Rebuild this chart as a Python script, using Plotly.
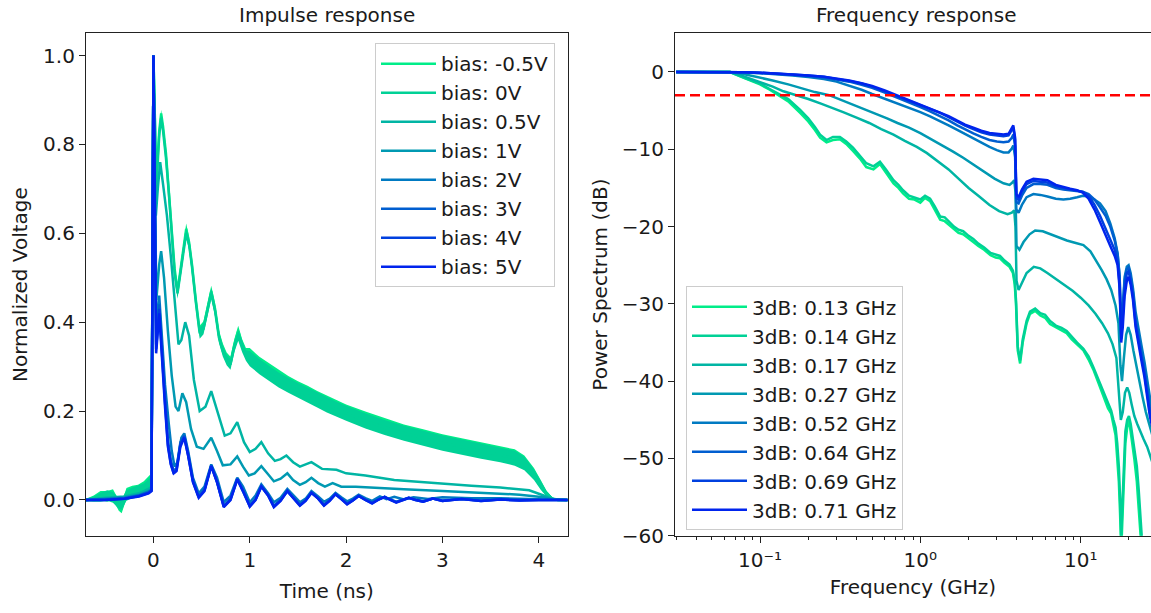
import math
import plotly.graph_objects as go

# ---------------- Impulse response data ----------------
bias_labels = ["bias: -0.5V", "bias: 0V", "bias: 0.5V", "bias: 1V",
               "bias: 2V", "bias: 3V", "bias: 4V", "bias: 5V"]

t_g = [-0.70, -0.62, -0.55, -0.48, -0.42, -0.36, -0.33, -0.28, -0.22, -0.16,
       -0.10, -0.05, -0.02, 0.0, 0.03, 0.06, 0.08, 0.10, 0.13, 0.16,
       0.19, 0.22, 0.25, 0.28, 0.31, 0.34, 0.37, 0.40, 0.44, 0.48,
       0.52, 0.56, 0.60, 0.64, 0.68, 0.72, 0.76, 0.80, 0.84, 0.88,
       0.92, 0.96, 1.0, 1.1, 1.2, 1.3, 1.4, 1.5, 1.6, 1.7,
       1.8, 1.9, 2.0, 2.2, 2.4, 2.6, 2.8, 3.0, 3.2, 3.4,
       3.6, 3.75, 3.85, 3.95, 4.02, 4.08, 4.14, 4.2, 4.3]
v_m05 = [0.000, 0.004, 0.010, 0.008, 0.012, -0.012, -0.018, 0.015, 0.020, 0.022,
         0.030, 0.040, 0.050, 1.0, 0.72, 0.83, 0.87, 0.84, 0.78, 0.70,
         0.60, 0.52, 0.47, 0.52, 0.57, 0.61, 0.58, 0.53, 0.45, 0.38,
         0.39, 0.43, 0.47, 0.43, 0.37, 0.34, 0.32, 0.31, 0.35, 0.38,
         0.35, 0.33, 0.325, 0.305, 0.29, 0.275, 0.262, 0.25, 0.24, 0.228,
         0.218, 0.208, 0.198, 0.182, 0.167, 0.153, 0.142, 0.131, 0.122, 0.113,
         0.105, 0.097, 0.085, 0.06, 0.035, 0.015, 0.003, 0.0, 0.0]
v_0 = [0.000, 0.002, 0.006, 0.010, 0.006, -0.008, -0.010, 0.010, 0.016, 0.020,
       0.025, 0.035, 0.045, 1.0, 0.70, 0.82, 0.86, 0.83, 0.77, 0.69,
       0.59, 0.51, 0.465, 0.51, 0.56, 0.60, 0.575, 0.525, 0.445, 0.375,
       0.385, 0.425, 0.465, 0.425, 0.365, 0.335, 0.315, 0.305, 0.345, 0.37,
       0.345, 0.325, 0.318, 0.30, 0.285, 0.27, 0.258, 0.246, 0.236, 0.225,
       0.214, 0.204, 0.195, 0.178, 0.163, 0.15, 0.139, 0.128, 0.119, 0.11,
       0.102, 0.094, 0.082, 0.057, 0.033, 0.014, 0.003, 0.0, 0.0]
# half-width of the noise band around the two green traces
amp_g = [0.003, 0.006, 0.010, 0.012, 0.012, 0.012, 0.012, 0.012, 0.012, 0.012,
         0.012, 0.012, 0.010, 0.0, 0.008, 0.008, 0.008, 0.008, 0.008, 0.008,
         0.008, 0.012, 0.012, 0.012, 0.012, 0.012, 0.012, 0.012, 0.012, 0.012,
         0.012, 0.012, 0.012, 0.012, 0.012, 0.012, 0.012, 0.012, 0.012, 0.012,
         0.012, 0.012, 0.017, 0.017, 0.017, 0.017, 0.017, 0.017, 0.017, 0.017,
         0.017, 0.017, 0.017, 0.017, 0.017, 0.017, 0.017, 0.017, 0.017, 0.017,
         0.017, 0.017, 0.015, 0.012, 0.010, 0.006, 0.003, 0.0, 0.0]

t05 = [-0.70, -0.5, -0.3, -0.15, -0.05, -0.02, 0.0, 0.025, 0.045, 0.07,
       0.10, 0.14, 0.18, 0.22, 0.26, 0.29, 0.33, 0.37, 0.42, 0.48,
       0.54, 0.60, 0.66, 0.74, 0.80, 0.87, 0.94, 1.0, 1.06, 1.12,
       1.19, 1.26, 1.32, 1.38, 1.45, 1.52, 1.58, 1.64, 1.75, 1.9,
       2.0, 2.2, 2.5, 2.8, 3.0, 3.3, 3.6, 3.9, 4.05, 4.15, 4.3]
v05 = [0.0, 0.005, 0.008, 0.015, 0.025, 0.03, 1.0, 0.64, 0.70, 0.76,
       0.71, 0.64, 0.55, 0.44, 0.35, 0.36, 0.40, 0.37, 0.27, 0.20,
       0.21, 0.245, 0.20, 0.145, 0.15, 0.175, 0.13, 0.108, 0.115, 0.13,
       0.105, 0.088, 0.092, 0.10, 0.085, 0.075, 0.08, 0.085, 0.07, 0.068,
       0.06, 0.055, 0.045, 0.04, 0.036, 0.032, 0.028, 0.022, 0.01, 0.002, 0.0]

t1 = [-0.70, -0.5, -0.3, -0.15, -0.05, -0.02, 0.0, 0.03, 0.06, 0.08,
      0.11, 0.15, 0.19, 0.23, 0.26, 0.30, 0.34, 0.39, 0.45, 0.52,
      0.60, 0.66, 0.72, 0.80, 0.87, 0.93, 0.99, 1.05, 1.12, 1.19,
      1.25, 1.32, 1.39, 1.45, 1.52, 1.58, 1.64, 1.71, 1.78, 1.86,
      1.95, 2.1, 2.3, 2.6, 3.0, 3.4, 3.8, 4.05, 4.15, 4.3]
v1 = [0.0, 0.003, 0.006, 0.012, 0.02, 0.025, 1.0, 0.45, 0.53, 0.56,
      0.50, 0.38, 0.28, 0.21, 0.20, 0.24, 0.22, 0.16, 0.12, 0.115,
      0.14, 0.11, 0.078, 0.08, 0.098, 0.075, 0.055, 0.06, 0.076, 0.058,
      0.042, 0.048, 0.06, 0.045, 0.034, 0.04, 0.05, 0.038, 0.03, 0.038,
      0.03, 0.03, 0.027, 0.024, 0.02, 0.016, 0.012, 0.006, 0.001, 0.0]

t2 = [-0.70, -0.5, -0.3, -0.15, -0.05, -0.02, 0.0, 0.03, 0.06, 0.09,
      0.12, 0.16, 0.19, 0.22, 0.25, 0.29, 0.32, 0.36, 0.41, 0.47,
      0.53, 0.60, 0.66, 0.73, 0.80, 0.87, 0.93, 1.0, 1.06, 1.12,
      1.19, 1.25, 1.32, 1.39, 1.45, 1.52, 1.58, 1.64, 1.71, 1.77,
      1.83, 1.89, 1.95, 2.01, 2.07, 2.13, 2.2, 2.27, 2.35, 2.42,
      2.5, 2.6, 2.7, 2.85, 3.0, 3.3, 3.6, 3.9, 4.1, 4.3]
v2 = [0.0, 0.002, 0.004, 0.01, 0.018, 0.022, 1.0, 0.38, 0.46, 0.36,
      0.26, 0.17, 0.11, 0.075, 0.085, 0.14, 0.15, 0.11, 0.05, 0.015,
      0.03, 0.08, 0.05, -0.005, 0.01, 0.05, 0.03, -0.005, 0.01, 0.035,
      0.015, -0.005, 0.005, 0.025, 0.01, -0.005, 0.003, 0.02, 0.008, -0.004,
      0.003, 0.016, 0.006, -0.003, 0.003, 0.012, 0.004, -0.002, 0.008, 0.002,
      0.007, 0.001, 0.006, 0.002, 0.006, 0.004, 0.004, 0.002, 0.0, 0.0]

tb = [-0.70, -0.5, -0.3, -0.15, -0.05, -0.02, 0.0, 0.028, 0.06, 0.09,
      0.12, 0.15, 0.18, 0.21, 0.24, 0.28, 0.32, 0.36, 0.41, 0.47,
      0.53, 0.60, 0.66, 0.73, 0.80, 0.87, 0.93, 1.0, 1.06, 1.12,
      1.19, 1.25, 1.32, 1.39, 1.45, 1.52, 1.58, 1.64, 1.71, 1.77,
      1.83, 1.89, 1.95, 2.01, 2.07, 2.13, 2.2, 2.27, 2.33, 2.4,
      2.46, 2.52, 2.59, 2.65, 2.72, 2.8, 2.9, 3.0, 3.2, 3.4,
      3.6, 3.8, 4.0, 4.3]
v3 = [0.0, 0.001, 0.004, 0.01, 0.017, 0.022, 1.0, 0.35, 0.44, 0.33,
      0.23, 0.135, 0.09, 0.065, 0.072, 0.13, 0.145, 0.105, 0.045, 0.008,
      0.024, 0.078, 0.042, -0.013, 0.003, 0.048, 0.022, -0.012, 0.002, 0.032,
      0.012, -0.013, 0.0, 0.021, 0.006, -0.011, 0.0, 0.017, 0.004, -0.011,
      0.0, 0.014, 0.003, -0.008, 0.0, 0.01, 0.001, -0.006, 0.001, 0.007,
      0.001, -0.004, 0.001, 0.005, 0.001, -0.003, 0.003, -0.001, 0.002, -0.001,
      0.001, 0.0, 0.0, 0.0]
v4 = [0.0, 0.0, 0.003, 0.009, 0.016, 0.021, 1.0, 0.34, 0.43, 0.31,
      0.22, 0.125, 0.082, 0.06, 0.068, 0.125, 0.142, 0.10, 0.042, 0.006,
      0.022, 0.077, 0.04, -0.015, 0.001, 0.047, 0.02, -0.014, 0.001, 0.031,
      0.01, -0.015, -0.001, 0.02, 0.005, -0.012, -0.001, 0.016, 0.003, -0.012,
      -0.001, 0.013, 0.002, -0.009, -0.001, 0.009, 0.0, -0.007, 0.0, 0.007,
      0.0, -0.005, 0.0, 0.005, 0.0, -0.004, 0.003, -0.002, 0.002, -0.002,
      0.001, -0.001, 0.0, 0.0]
v5 = [0.0, 0.0, 0.003, 0.008, 0.015, 0.02, 1.0, 0.33, 0.42, 0.30,
      0.21, 0.12, 0.08, 0.06, 0.065, 0.12, 0.14, 0.10, 0.04, 0.005,
      0.02, 0.076, 0.04, -0.016, 0.0, 0.046, 0.02, -0.015, 0.0, 0.03,
      0.01, -0.016, -0.002, 0.02, 0.005, -0.013, -0.002, 0.016, 0.003, -0.013,
      -0.002, 0.013, 0.002, -0.01, -0.001, 0.009, 0.0, -0.008, 0.0, 0.007,
      0.0, -0.006, 0.0, 0.005, 0.0, -0.004, 0.003, -0.002, 0.002, -0.002,
      0.001, -0.001, 0.0, 0.0]

# ---------------- Frequency response data ----------------
bw_labels = ["3dB: 0.13 GHz", "3dB: 0.14 GHz", "3dB: 0.17 GHz", "3dB: 0.27 GHz",
             "3dB: 0.52 GHz", "3dB: 0.64 GHz", "3dB: 0.69 GHz", "3dB: 0.71 GHz"]

f_g = [0.03, 0.045, 0.065, 0.08, 0.1, 0.115, 0.13, 0.15, 0.178, 0.2,
       0.22, 0.237, 0.26, 0.285, 0.315, 0.345, 0.38, 0.42, 0.46, 0.51,
       0.56, 0.61, 0.68, 0.73, 0.78, 0.85, 0.92, 1.0, 1.07, 1.15,
       1.23, 1.33, 1.42, 1.52, 1.62, 1.73, 1.85, 2.0, 2.14, 2.3,
       2.5, 2.74, 2.95, 3.14, 3.35, 3.6, 3.78, 3.88, 3.95, 4.05,
       4.19, 4.35, 4.6, 4.83, 5.2, 5.6, 6.0, 6.44, 7.0, 7.6,
       8.18, 8.8, 9.5, 10.4, 11.2, 12.0, 12.9, 13.9, 14.8, 15.5,
       16.0, 16.5, 16.9, 17.3, 17.6, 17.9, 18.2, 18.6, 19.0, 19.5,
       20.0, 20.5, 21.0, 21.6, 22.4, 23.0, 23.6, 24.2]
db_m05 = [0, 0, 0, -0.8, -1.6, -2.3, -3.0, -3.8, -5.3, -6.4,
          -7.5, -8.5, -9.1, -8.8, -8.7, -9.3, -10.2, -11.2, -12.3, -12.6,
          -11.9, -13.0, -14.4, -15.0, -15.7, -16.4, -16.5, -16.9, -16.3, -16.7,
          -17.8, -19.1, -19.3, -19.8, -20.3, -20.8, -21.0, -21.6, -22.0, -22.5,
          -23.0, -23.7, -24.0, -24.1, -24.7, -25.2, -26.0, -27.5, -30, -36,
          -37.7, -35, -32.5, -31.3, -30.9, -31.5, -31.8, -32.6, -33.0, -33.4,
          -33.8, -34.6, -35.2, -36.0, -37.2, -38.5, -40.2, -41.9, -43.5, -44.2,
          -45.7, -47, -50, -53, -57, -62, -58, -52, -48, -46,
          -45, -46.5, -48, -50, -53, -56, -59, -63]
db_0 = [0, 0, 0, -0.75, -1.5, -2.2, -2.85, -3.5, -4.9, -6.0,
        -7.1, -8.1, -8.8, -8.4, -8.4, -9.0, -9.8, -10.8, -11.8, -12.2,
        -11.6, -12.6, -14.0, -14.6, -15.3, -16.0, -16.2, -16.5, -16.0, -16.4,
        -17.4, -18.7, -18.8, -19.4, -20.0, -20.4, -20.6, -21.2, -21.6, -22.2,
        -22.7, -23.4, -23.6, -23.8, -24.4, -24.9, -25.7, -27.0, -29.5, -35.5,
        -37.3, -34.6, -32.2, -31.0, -30.6, -31.2, -31.4, -32.2, -32.8, -33.1,
        -33.5, -34.3, -35.0, -35.8, -36.8, -38.2, -39.8, -41.5, -43.0, -43.8,
        -45.0, -46, -48, -51, -55, -60, -56, -50, -46.5, -45,
        -44.5, -45.5, -47, -49, -51, -54, -57, -61]

f05 = [0.03, 0.045, 0.065, 0.08, 0.1, 0.12, 0.14, 0.17, 0.2, 0.24,
       0.28, 0.33, 0.4, 0.48, 0.57, 0.68, 0.8, 0.95, 1.1, 1.3,
       1.5, 1.75, 2.0, 2.3, 2.7, 3.1, 3.5, 3.72, 3.85, 3.92,
       3.98, 4.1, 4.3, 4.6, 5.1, 5.6, 6.2, 7.0, 7.9, 8.9,
       10.0, 11.2, 12.4, 13.6, 14.8, 15.8, 16.7, 17.3, 17.8, 18.3,
       18.9, 19.5, 20.1, 20.8, 21.6, 22.5, 23.5, 24.7, 26.0, 27.5, 28]
db_05 = [0, 0, 0, -0.6, -1.3, -1.9, -2.5, -3.0, -3.5, -4.1,
         -4.6, -5.2, -5.9, -6.6, -7.4, -8.1, -8.9, -9.7, -10.5, -11.6,
         -12.6, -13.9, -15.0, -16.0, -17.2, -18.0, -18.4, -18.2, -17.9, -20,
         -27, -28.2, -27.2, -26.0, -25.2, -25.4, -26.0, -26.8, -27.5, -28.3,
         -29.2, -30.2, -31.3, -32.5, -33.8, -35.2, -37.0, -41, -45, -44,
         -41.5, -40.8, -41.5, -43, -44.5, -45.5, -46.5, -47.5, -48.5, -50, -50.5]

f1 = [0.03, 0.045, 0.065, 0.08, 0.1, 0.12, 0.15, 0.18, 0.22, 0.27,
      0.32, 0.38, 0.45, 0.53, 0.62, 0.72, 0.85, 1.0, 1.2, 1.4,
      1.6, 1.85, 2.14, 2.5, 2.9, 3.3, 3.6, 3.75, 3.85, 3.92,
      3.98, 4.15, 4.4, 4.8, 5.2, 5.8, 6.5, 7.3, 8.2, 9.2,
      10.4, 11.5, 12.6, 13.5, 14.5, 15.5, 16.5, 17.2, 17.7, 18.1,
      18.6, 19.2, 19.8, 20.5, 21.3, 22.2, 23.2, 24.3, 25.5, 27.0, 28.0]
db_1 = [0, 0, 0, -0.3, -0.7, -1.1, -1.6, -2.1, -2.6, -3.0,
        -3.6, -4.2, -4.8, -5.4, -6.0, -6.6, -7.2, -7.9, -8.8, -9.6,
        -10.3, -11.1, -12.0, -12.9, -13.8, -14.4, -14.6, -14.3, -14.0, -15.5,
        -22.5, -23.0, -22.0, -21.0, -20.5, -20.6, -21.0, -21.4, -21.8, -22.1,
        -22.4, -23.2, -24.5, -25.6, -26.8, -28.2, -30.2, -32.5, -38, -40,
        -37, -34, -33, -34, -36, -38, -40, -42, -44, -46, -47]

f_b = [0.03, 0.045, 0.065, 0.08, 0.1, 0.13, 0.16, 0.2, 0.25, 0.3,
       0.36, 0.43, 0.5, 0.6, 0.71, 0.85, 1.0, 1.15, 1.33, 1.5,
       1.7, 1.9, 2.14, 2.4, 2.7, 3.0, 3.3, 3.55, 3.72, 3.8,
       3.9, 3.97, 4.1, 4.3, 4.6, 5.07, 5.6, 6.2, 7.0, 7.8,
       8.6, 9.5, 10.3, 11.2, 12.2, 13.2, 14.3, 15.3, 16.3, 17.0,
       17.5, 17.9, 18.3, 18.8, 19.4, 19.9, 20.5, 21.2, 22.0, 23.0,
       24.0, 25.0, 26.0, 27.0, 28.0]
db_2 = [0, 0, 0, -0.07, -0.15, -0.28, -0.45, -0.65, -0.9, -1.25,
        -1.75, -2.3, -2.85, -3.45, -4.0, -4.6, -5.2, -5.75, -6.35, -6.9,
        -7.5, -8.05, -8.65, -9.2, -9.7, -10.1, -10.4, -10.4, -9.9, -9.5,
        -11.0, -17.8, -18.2, -17.2, -16.2, -15.8, -15.9, -16.1, -16.4, -16.5,
        -16.4, -16.2, -16.0, -16.1, -16.5, -17.0, -18.0, -19.6, -21.5, -23.5,
        -26.5, -34, -31, -26.5, -25.2, -25.0, -26.0, -28, -31, -33.5,
        -35.5, -37.5, -40, -42, -44]
db_3 = [0, 0, 0, -0.05, -0.12, -0.22, -0.35, -0.52, -0.7, -0.97,
        -1.25, -1.65, -2.05, -2.65, -3.25, -3.9, -4.55, -5.1, -5.7, -6.25,
        -6.9, -7.45, -7.95, -8.4, -8.8, -9.0, -9.1, -9.0, -8.5, -8.1,
        -9.6, -16.8, -17.0, -16.0, -15.0, -14.5, -14.5, -14.6, -15.0, -15.2,
        -15.3, -15.4, -15.5, -15.8, -16.5, -17.5, -18.6, -20.0, -21.8, -23.6,
        -26.5, -33.5, -31, -27, -25.5, -25.3, -26.5, -28.5, -32, -34.5,
        -36.5, -38.5, -41, -43.5, -45]
db_4 = [0, 0, 0, -0.05, -0.1, -0.2, -0.32, -0.47, -0.63, -0.9,
        -1.15, -1.5, -1.9, -2.5, -3.1, -3.7, -4.3, -4.8, -5.3, -5.85,
        -6.45, -6.95, -7.4, -7.8, -8.1, -8.25, -8.3, -8.2, -7.6, -7.2,
        -8.8, -16.3, -16.5, -15.5, -14.5, -14.1, -14.2, -14.3, -14.8, -15.0,
        -15.2, -15.3, -15.5, -16.0, -17.2, -18.6, -20.3, -21.6, -23.0, -24.5,
        -27.5, -34.5, -32, -28, -26, -25.8, -27, -29, -32.5, -35,
        -37, -39, -41.5, -44, -45.5]
db_5 = [0, 0, 0, -0.05, -0.1, -0.2, -0.3, -0.45, -0.6, -0.85,
        -1.1, -1.45, -1.8, -2.4, -3.0, -3.6, -4.2, -4.7, -5.2, -5.7,
        -6.3, -6.8, -7.2, -7.6, -7.9, -8.0, -8.1, -8.0, -7.3, -6.9,
        -8.5, -15.8, -16.2, -15.2, -14.2, -13.8, -13.9, -14.0, -14.6, -14.9,
        -15.1, -15.3, -15.6, -16.4, -17.8, -19.4, -21.2, -22.5, -23.8, -25.0,
        -28, -35, -33, -29, -27, -26.5, -27.5, -29.5, -33, -35.5,
        -37.5, -39.5, -42, -44.5, -46]

threshold_db = -3

# ---------------- styles ----------------
colors = ["#00ed89", "#00d196", "#00b5a4", "#0099b2",
          "#007ac2", "#005ed0", "#0040df", "#0024ed"]
LW = 2.5
FONT = "DejaVu Sans"
INK = "#1a1a1a"

fig = go.Figure()

impulse = [(t_g, v_m05), (t_g, v_0), (t05, v05), (t1, v1),
           (t2, v2), (tb, v3), (tb, v4), (tb, v5)]
for i, (tx, vy) in enumerate(impulse):
    if i < 2:
        up = [a + b for a, b in zip(vy, amp_g)]
        lo = [a - b for a, b in zip(vy, amp_g)]
        fig.add_trace(go.Scatter(x=tx + tx[::-1], y=up + lo[::-1], mode="lines",
                                 fill="toself", fillcolor=colors[i],
                                 line=dict(width=0, color=colors[i]),
                                 showlegend=False, hoverinfo="skip",
                                 xaxis="x", yaxis="y"))
    fig.add_trace(go.Scatter(x=tx, y=vy, mode="lines", name=bias_labels[i],
                             line=dict(color=colors[i], width=LW),
                             xaxis="x", yaxis="y", legend="legend"))

freq = [(f_g, db_m05), (f_g, db_0), (f05, db_05), (f1, db_1),
        (f_b, db_2), (f_b, db_3), (f_b, db_4), (f_b, db_5)]
for i, (fx, dy) in enumerate(freq):
    fig.add_trace(go.Scatter(x=fx, y=dy, mode="lines", name=bw_labels[i],
                             line=dict(color=colors[i], width=LW),
                             xaxis="x2", yaxis="y2", legend="legend2"))

W, H = 1151, 613
yd = [66.5 / H, 579 / H]
axcommon = dict(showgrid=False, zeroline=False, showline=True, linecolor="#222",
                linewidth=1.2, ticks="outside", ticklen=6, tickwidth=1.2,
                tickcolor="#222", tickfont=dict(family=FONT, size=20, color=INK))
title_font = dict(family=FONT, size=20, color=INK)

minor_vals = [k * 10.0 ** e for e in (-2, -1, 0, 1) for k in range(2, 10)
              if 0.0295 <= k * 10.0 ** e <= 27.5]

fig.update_layout(
    width=W, height=H, margin=dict(l=0, r=0, t=0, b=0),
    paper_bgcolor="white", plot_bgcolor="white",
    font=dict(family=FONT, size=20, color=INK),
    xaxis=dict(domain=[86 / W, 567.7 / W], range=[-0.70, 4.30],
               tickvals=[0, 1, 2, 3, 4], mirror=True, anchor="y",
               title=dict(text="Time (ns)", font=title_font, standoff=13),
               **axcommon),
    yaxis=dict(domain=yd, range=[-0.0806, 1.050],
               tickvals=[0, 0.2, 0.4, 0.6, 0.8, 1.0],
               ticktext=["0.0", "0.2", "0.4", "0.6", "0.8", "1.0"],
               mirror=True, anchor="x",
               title=dict(text="Normalized Voltage", font=title_font, standoff=10),
               **axcommon),
    xaxis2=dict(type="log", domain=[675 / W, 1.0],
                range=[math.log10(0.0295), 1.4386],
                tickvals=[0.1, 1, 10],
                ticktext=["10\u207b\u00b9", "10\u2070", "10\u00b9"],
                minor=dict(tickvals=minor_vals, ticks="outside", ticklen=3.5,
                           tickwidth=1, tickcolor="#222"),
                mirror=True, anchor="y2",
                title=dict(text="Frequency (GHz)", font=title_font, standoff=9),
                **axcommon),
    yaxis2=dict(domain=yd, range=[-60, 5],
                tickvals=[0, -10, -20, -30, -40, -50, -60],
                mirror=False, anchor="x2",
                title=dict(text="Power Spectrum (dB)", font=title_font, standoff=8),
                **axcommon),
    legend=dict(x=375 / W, y=1 - 44 / H, xanchor="left", yanchor="top",
                bgcolor="rgba(255,255,255,0.8)", bordercolor="#cccccc",
                borderwidth=1, itemwidth=55,
                font=dict(family=FONT, size=20, color=INK)),
    legend2=dict(x=686 / W, y=1 - 292 / H, xanchor="left", yanchor="top",
                 bgcolor="rgba(255,255,255,0.8)", bordercolor="#cccccc",
                 borderwidth=1, itemwidth=55,
                 font=dict(family=FONT, size=20, color=INK)),
    shapes=[dict(type="line", xref="x2 domain", x0=0, x1=1, yref="y2",
                 y0=threshold_db, y1=threshold_db, layer="above",
                 line=dict(color="#ff0000", width=2.5, dash="10px,5px"))],
    annotations=[
        dict(text="Impulse response", x=326.9 / W, y=1 - 15 / H, xref="paper",
             yref="paper", xanchor="center", yanchor="middle", showarrow=False,
             font=dict(family=FONT, size=20, color=INK)),
        dict(text="Frequency response", x=916.7 / W, y=1 - 15 / H, xref="paper",
             yref="paper", xanchor="center", yanchor="middle", showarrow=False,
             font=dict(family=FONT, size=20, color=INK)),
    ],
)

fig.write_html("out.html")
